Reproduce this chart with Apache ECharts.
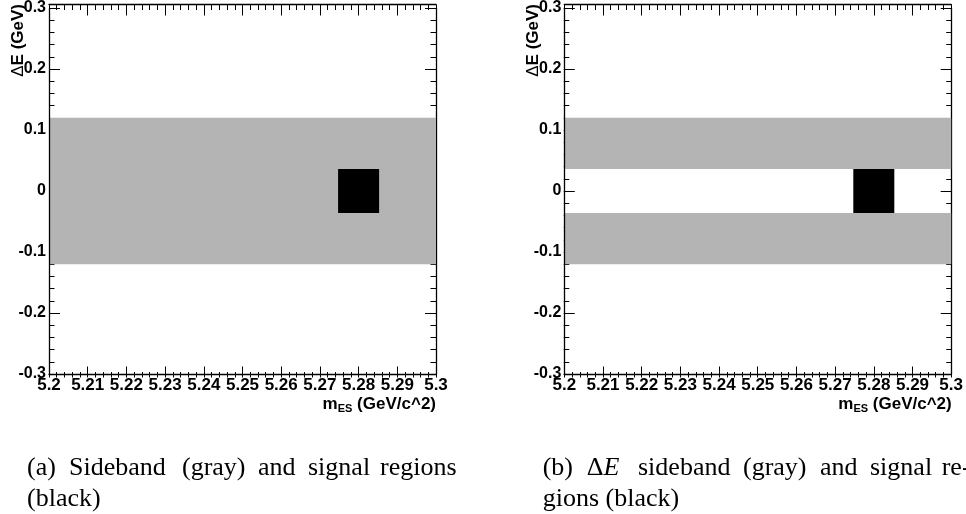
<!DOCTYPE html>
<html>
<head>
<meta charset="utf-8">
<script src="https://cdn.jsdelivr.net/npm/echarts@6/dist/echarts.min.js"></script>
<style>
  html, body { margin: 0; padding: 0; background: #fff; }
  #chart { width: 966px; height: 514px; }
</style>
</head>
<body>
<div id="chart"></div>
<script>
// Axis ranges and tick labels
const xMin = 5.2, xMax = 5.3, xStep = 0.01;
const yMin = -0.3, yMax = 0.3, yStep = 0.1;
const xTickLabels = ['5.2', '5.21', '5.22', '5.23', '5.24', '5.25', '5.26', '5.27', '5.28', '5.29', '5.3'];
const yTickLabels = ['-0.3', '-0.2', '-0.1', '0', '0.1', '0.2', '0.3'];

// Regions, each as [mES low, mES high, dE low, dE high]
const sidebandA = [[5.2, 5.3, -0.12, 0.12]];
const signalA = [[5.2747, 5.2853, -0.036, 0.036]];
const sidebandB = [[5.2, 5.3, 0.036, 0.12], [5.2, 5.3, -0.12, -0.036]];
const signalB = [[5.2747, 5.2853, -0.036, 0.036]];

const xTitle = ['m', 'ES', ' (GeV/c^2)'];
const yTitle = ['Δ', 'E (GeV)'];

const SANS = '"Liberation Sans", Arial, Helvetica, sans-serif';
const SERIF = '"Liberation Serif", "Times New Roman", serif';
const GRAY = '#b4b4b4';
const FRAME = { color: '#000', width: 1.3 };
const TICK = { color: '#000', width: 1 };

const panels = [
  { left: 49, top: 4.5, width: 387, height: 369.5, regions: [sidebandA, signalA] },
  { left: 564.3, top: 4.5, width: 387.4, height: 369.5, regions: [sidebandB, signalB] }
];

const chart = echarts.init(document.getElementById('chart'), null, { renderer: 'canvas' });

function xLabel(v) { return xTickLabels[Math.round((v - xMin) / xStep)]; }
function yLabel(v) { return yTickLabels[Math.round((v - yMin) / yStep)]; }

// A value axis; ticks always point outward from the side given by `position`,
// so an axis moved across the frame with `offset` draws its ticks into the frame.
function axis(kind, grid, position, offset, opts) {
  const isX = kind === 'x';
  return {
    type: 'value', gridIndex: grid, position: position, offset: offset,
    min: isX ? xMin : yMin, max: isX ? xMax : yMax, interval: isX ? xStep : yStep,
    z: opts.z,
    axisLine: { show: !!opts.line, onZero: false, lineStyle: FRAME },
    axisTick: { show: !!opts.ticks, inside: false, length: 11, lineStyle: TICK },
    minorTick: { show: !!opts.ticks, splitNumber: 5, length: 5.5, lineStyle: TICK },
    splitLine: { show: false },
    minorSplitLine: { show: false },
    axisLabel: opts.labels ? Object.assign({
      show: true, margin: 3, hideOverlap: false, showMinLabel: true, showMaxLabel: true,
      color: '#000', fontFamily: SANS, fontWeight: 'bold'
    }, opts.labels) : { show: false }
  };
}

const grids = [], xAxes = [], yAxes = [], series = [];
panels.forEach((p, i) => {
  grids.push({ left: p.left, top: p.top, width: p.width, height: p.height, containLabel: false });
  const xBase = xAxes.length, yBase = yAxes.length;
  // mES: labelled bottom line, ticks rising from the bottom, top line with ticks hanging down
  xAxes.push(axis('x', i, 'bottom', 0, { z: 5, line: true, labels: { formatter: xLabel, fontSize: 17 } }));
  xAxes.push(axis('x', i, 'top', -p.height, { z: 0, ticks: true }));
  xAxes.push(axis('x', i, 'bottom', -p.height, { z: 0, line: true, ticks: true }));
  // dE: labelled left line, ticks pointing right, right line with ticks pointing left
  yAxes.push(axis('y', i, 'left', 0, { z: 5, line: true, labels: { formatter: yLabel, fontSize: 16, padding: [5, 0, 0, 0] } }));
  yAxes.push(axis('y', i, 'right', -p.width, { z: 0, ticks: true }));
  yAxes.push(axis('y', i, 'left', -p.width, { z: 0, line: true, ticks: true }));

  p.regions.forEach((data, k) => {
    series.push({
      type: 'custom',
      xAxisIndex: xBase,
      yAxisIndex: yBase,
      z: 2 + k,
      silent: true,
      clip: false,
      itemStyle: { color: k === 0 ? GRAY : '#000' },
      encode: { x: [0, 1], y: [2, 3] },
      data: data,
      renderItem: function (params, api) {
        const p0 = api.coord([api.value(0), api.value(3)]);
        const p1 = api.coord([api.value(1), api.value(2)]);
        return {
          type: 'rect',
          shape: { x: p0[0], y: p0[1], width: p1[0] - p0[0], height: p1[1] - p0[1] },
          style: { fill: api.visual('color') }
        };
      }
    });
  });
});

// Axis titles and sub-figure captions
const graphics = [];
panels.forEach((p) => {
  graphics.push({
    type: 'text', x: p.left - 31, y: p.top - 0.5, rotation: Math.PI / 2, z: 10,
    style: {
      text: '{d|' + yTitle[0] + '}{b|' + yTitle[1] + '}', fill: '#000',
      align: 'right', verticalAlign: 'middle', textAlign: 'right', textVerticalAlign: 'middle',
      rich: {
        d: { fontFamily: SANS, fontWeight: 'normal', fontSize: 17 },
        b: { fontFamily: SANS, fontWeight: 'bold', fontSize: 17 }
      }
    }
  });
  graphics.push({
    type: 'text', x: p.left + p.width, y: p.top + p.height + 30, z: 10,
    style: {
      text: '{m|' + xTitle[0] + '}{s|' + xTitle[1] + '}{m|' + xTitle[2] + '}',
      fill: '#000', align: 'right', verticalAlign: 'middle', textAlign: 'right', textVerticalAlign: 'middle',
      rich: {
        m: { fontFamily: SANS, fontWeight: 'bold', fontSize: 17, lineHeight: 20, verticalAlign: 'middle' },
        s: { fontFamily: SANS, fontWeight: 'bold', fontSize: 11, lineHeight: 9, verticalAlign: 'bottom' }
      }
    }
  });
});

const captionA = [
  ['(a)', 27, 468], ['Sideband', 69, 468], ['(gray)', 182, 468], ['and', 258, 468],
  ['signal', 308, 468], ['regions', 380, 468], ['(black)', 27, 499]
];
const captionB = [
  ['(b)', 542.7, 468], ['{r|Δ}{i|E}', 586.7, 468], ['sideband', 638, 468], ['(gray)', 743, 468],
  ['and', 820, 468], ['signal', 870, 468], ['re-', 941.7, 468], ['gions (black)', 542.7, 499]
];
captionA.concat(captionB).forEach(w => {
  graphics.push({
    type: 'text', x: w[1], y: w[2], z: 10,
    style: {
      text: w[0], fill: '#000', fontFamily: SERIF, fontSize: 26,
      align: 'left', verticalAlign: 'middle', textAlign: 'left', textVerticalAlign: 'middle',
      rich: {
        r: { fontFamily: SERIF, fontSize: 26 },
        i: { fontFamily: SERIF, fontSize: 26, fontStyle: 'italic' }
      }
    }
  });
});

chart.setOption({
  backgroundColor: '#fff',
  animation: false,
  grid: grids,
  xAxis: xAxes,
  yAxis: yAxes,
  series: series,
  graphic: graphics
});
</script>
</body>
</html>
